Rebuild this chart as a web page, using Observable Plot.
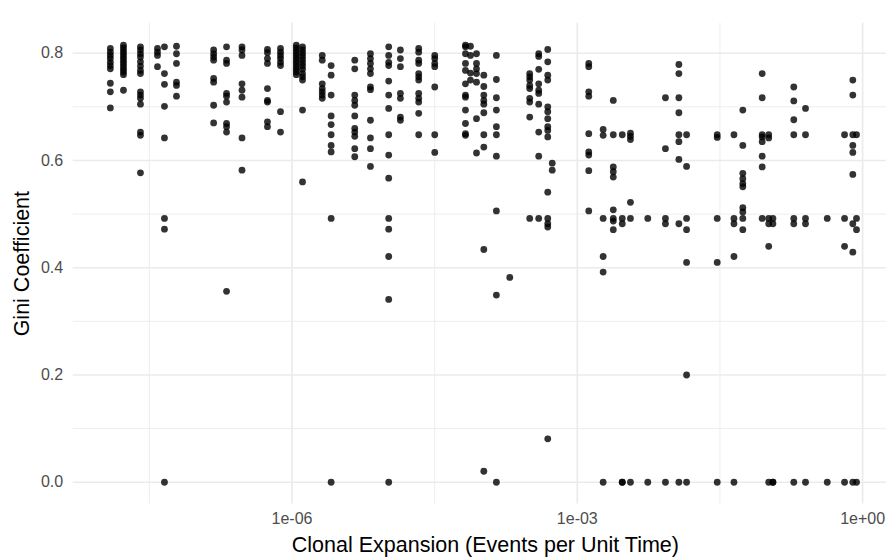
<!DOCTYPE html>
<html>
<head>
<meta charset="utf-8">
<script src="https://cdn.jsdelivr.net/npm/d3@7"></script>
<script src="https://cdn.jsdelivr.net/npm/@observablehq/plot@0.6"></script>
<style>
  html, body { margin: 0; padding: 0; background: #ffffff; }
  #chart svg { display: block; }
</style>
</head>
<body>
<div id="chart"></div>
<script>
// Column positions (clonal expansion, events per unit time)
const columnX = [
  1.23e-8, 1.69e-8, 2.55e-8, 3.85e-8, 4.56e-8, 6.10e-8, 1.50e-7, 2.05e-7, 2.98e-7, 5.52e-7,
  7.57e-7, 1.11e-6, 1.29e-6, 2.08e-6, 2.58e-6, 4.57e-6, 6.68e-6, 1.04e-5, 1.38e-5, 2.15e-5,
  3.17e-5, 6.67e-5, 7.53e-5, 8.71e-5, 1.04e-4, 1.41e-4, 1.95e-4, 3.16e-4, 3.93e-4, 4.89e-4,
  5.45e-4, 1.32e-3, 1.87e-3, 2.39e-3, 2.97e-3, 3.62e-3, 5.51e-3, 8.45e-3, 1.17e-2, 1.41e-2,
  2.96e-2, 4.44e-2, 5.50e-2, 8.79e-2, 0.103, 0.114, 0.189, 0.251, 0.425, 0.646,
  0.789, 0.863
];
// Gini coefficients observed at each column
const columnGini = [
  [0.809,0.802,0.796,0.790,0.783,0.777,0.771,0.744,0.728,0.698],
  [0.815,0.810,0.805,0.800,0.795,0.790,0.785,0.780,0.775,0.770,0.765,0.760,0.731],
  [0.812,0.806,0.799,0.793,0.784,0.776,0.768,0.762,0.728,0.722,0.716,0.705,0.653,0.647,0.577],
  [0.809,0.802,0.796,0.775],
  [0.812,0.762,0.742,0.701,0.642,0.492,0.472,0],
  [0.813,0.799,0.781,0.746,0.740,0.720],
  [0.806,0.799,0.793,0.787,0.753,0.746,0.703,0.670],
  [0.812,0.787,0.781,0.725,0.720,0.709,0.669,0.663,0.653,0.356],
  [0.812,0.806,0.796,0.743,0.731,0.718,0.642,0.582],
  [0.807,0.801,0.790,0.781,0.734,0.712,0.709,0.672,0.663],
  [0.809,0.802,0.796,0.790,0.783,0.777,0.691,0.653],
  [0.815,0.810,0.805,0.800,0.795,0.790,0.785,0.780,0.775,0.770,0.765,0.760],
  [0.812,0.806,0.800,0.794,0.788,0.782,0.776,0.770,0.762,0.756,0.750,0.694,0.560],
  [0.796,0.787,0.743,0.734,0.728,0.722,0.716],
  [0.777,0.759,0.722,0.683,0.667,0.648,0.628,0.616,0.492,0],
  [0.787,0.771,0.722,0.712,0.703,0.683,0.660,0.653,0.645,0.622,0.607],
  [0.799,0.790,0.781,0.771,0.762,0.737,0.732,0.675,0.642,0.622,0.589],
  [0.812,0.796,0.783,0.777,0.748,0.722,0.697,0.648,0.610,0.567,0.492,0.472,0.421,0.341,0],
  [0.806,0.790,0.775,0.725,0.716,0.681,0.675],
  [0.809,0.802,0.787,0.781,0.762,0.756,0.750,0.725,0.716,0.709,0.688,0.648],
  [0.796,0.790,0.781,0.775,0.737,0.648,0.615],
  [0.815,0.812,0.799,0.781,0.768,0.743,0.722,0.718,0.694,0.669,0.650,0.647],
  [0.813,0.796,0.763,0.750],
  [0.799,0.781,0.771,0.762,0.746,0.678,0.614],
  [0.759,0.738,0.722,0.712,0.705,0.689,0.648,0.625,0.434,0.0205],
  [0.796,0.751,0.717,0.694,0.663,0.648,0.608,0.506,0.349,0],
  [0.382],
  [0.762,0.756,0.750,0.740,0.734,0.716,0.709,0.681,0.492],
  [0.799,0.794,0.770,0.743,0.731,0.725,0.705,0.653,0.608,0.492],
  [0.807,0.784,0.759,0.750,0.700,0.691,0.678,0.663,0.656,0.644,0.541,0.492,0.482,0.476,0.081],
  [0.595,0.582],
  [0.781,0.775,0.728,0.720,0.650,0.616,0.610,0.581,0.506],
  [0.658,0.647,0.492,0.421,0.392,0],
  [0.712,0.648,0.588,0.579,0.569,0.508,0.492,0.487,0.471],
  [0.648,0.492,0.482,0,0],
  [0.651,0.645,0.639,0.522,0.492,0],
  [0.492,0],
  [0.717,0.622,0.492,0.482,0],
  [0.779,0.762,0.717,0.689,0.648,0.635,0.602,0.482,0],
  [0.648,0.589,0.492,0.471,0.410,0.2,0],
  [0.648,0.643,0.492,0.410,0],
  [0.648,0.492,0.482,0.421,0],
  [0.694,0.628,0.576,0.566,0.557,0.551,0.512,0.504,0.492,0.471],
  [0.762,0.717,0.648,0.644,0.635,0.608,0.588,0.492],
  [0.648,0.642,0.492,0.482,0.440,0],
  [0.492,0.482,0,0],
  [0.737,0.711,0.676,0.648,0.492,0.482,0],
  [0.697,0.648,0.492,0.482,0],
  [0.492,0],
  [0.648,0.492,0.440,0],
  [0.750,0.722,0.648,0.628,0.615,0.574,0.482,0.429,0],
  [0.648,0.492,0.471,0]
];

const xTicks = [1e-6, 1e-3, 1];
const xTickLabels = ["1e-06", "1e-03", "1e+00"];
const xMinorGrid = [10 ** -7.5, 10 ** -4.5, 10 ** -1.5];
const yTicks = [0, 0.2, 0.4, 0.6, 0.8];
const yTickLabels = ["0.0", "0.2", "0.4", "0.6", "0.8"];
const yMinorGrid = [0.1, 0.3, 0.5, 0.7];
const xTitle = "Clonal Expansion (Events per Unit Time)";
const yTitle = "Gini Coefficient";

const points = columnX.flatMap((x, i) => columnGini[i].map(g => ({x, g})));

const font = "'Liberation Sans', Arial, Helvetica, sans-serif";

const chart = Plot.plot({
  width: 886,
  height: 558,
  marginLeft: 72.7,
  marginRight: 0,
  marginTop: 22.7,
  marginBottom: 54.4,
  style: {fontFamily: font, background: "#ffffff", overflow: "visible"},
  x: {type: "log", domain: [10 ** -8.3007, 10 ** 0.2513], axis: null},
  y: {domain: [-0.04075, 0.856], axis: null},
  marks: [
    Plot.ruleX(xMinorGrid, {stroke: "#ebebeb", strokeWidth: 0.9}),
    Plot.ruleY(yMinorGrid, {stroke: "#ebebeb", strokeWidth: 0.9}),
    Plot.ruleX(xTicks, {stroke: "#ebebeb", strokeWidth: 1.7}),
    Plot.ruleY(yTicks, {stroke: "#ebebeb", strokeWidth: 1.7}),
    Plot.axisX({
      ticks: xTicks,
      tickFormat: d => xTickLabels[xTicks.indexOf(d)],
      tickSize: 0,
      tickPadding: 9,
      fontSize: 16,
      fill: "#4d4d4d",
      label: null
    }),
    Plot.axisY({
      ticks: yTicks,
      tickFormat: d => yTickLabels[yTicks.indexOf(d)],
      tickSize: 0,
      tickPadding: 10,
      fontSize: 16,
      fill: "#4d4d4d",
      label: null
    }),
    Plot.dot(points, {x: "x", y: "g", r: 3.4, fill: "#000000", fillOpacity: 0.8, stroke: "none"}),
    Plot.text([xTitle], {frameAnchor: "bottom", textAnchor: "middle", dx: 5.5, dy: 41.5, lineAnchor: "middle", fontSize: 21.5, fill: "#000000", text: d => d}),
    Plot.text([yTitle], {frameAnchor: "left", textAnchor: "middle", dx: -50.7, rotate: -90, lineAnchor: "middle", fontSize: 21.5, fill: "#000000", text: d => d})
  ]
});

document.getElementById("chart").appendChild(chart);
</script>
</body>
</html>
